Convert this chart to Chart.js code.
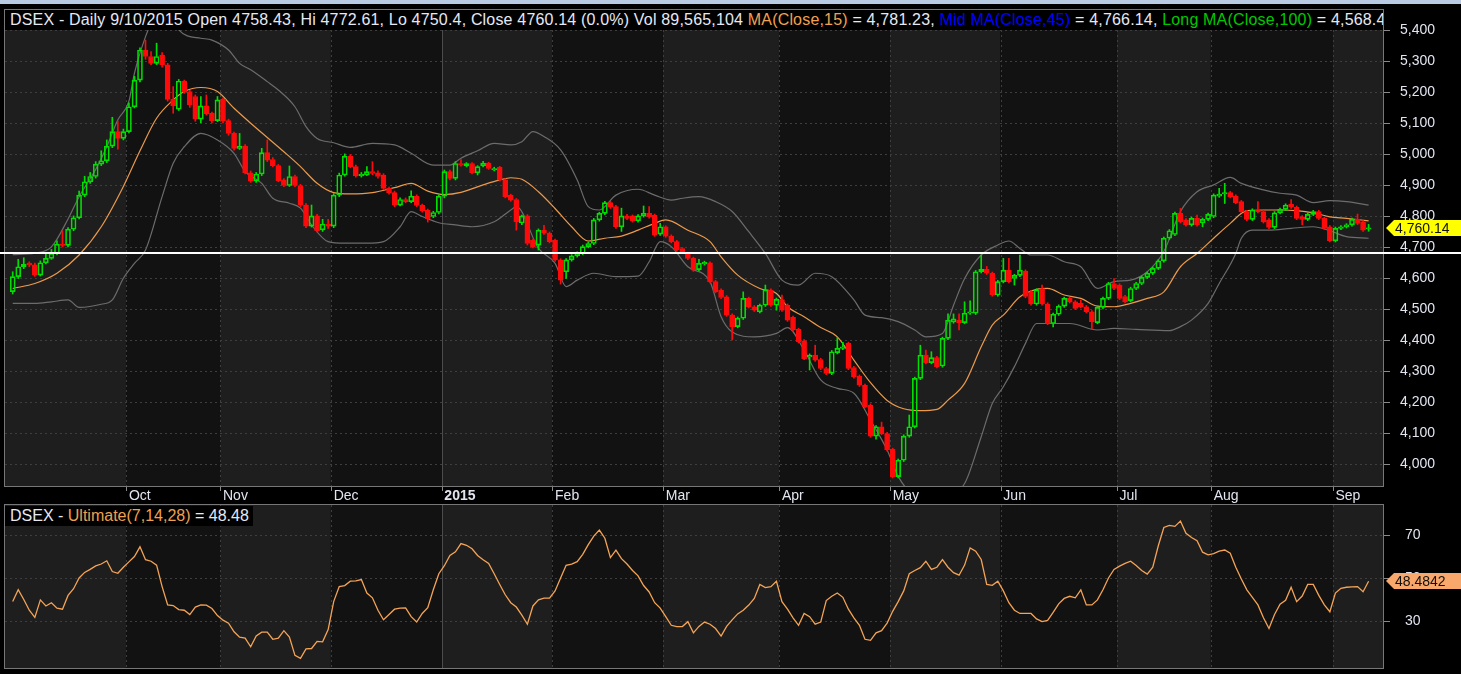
<!DOCTYPE html>
<html>
<head>
<meta charset="utf-8">
<script src="https://cdn.jsdelivr.net/npm/chart.js@4.4.0/dist/chart.umd.min.js"></script>
<style>
html, body { margin: 0; padding: 0; background: #000; width: 1461px; height: 674px; overflow: hidden; }
body { font-family: "Liberation Sans", Arial, sans-serif; position: relative; }
#topband { position: absolute; left: 0; top: 0; width: 1461px; height: 4px; background: #b8cbe3; }
canvas { position: absolute; left: 0; }
#priceCv { top: 0; }
#oscCv { top: 503px; }
.hdr { position: absolute; background: #000; color: #e6e8f4; font-size: 16px; line-height: 20px; white-space: nowrap; overflow: hidden; padding: 0 0 0 5px; }
#hdrMain { left: 5px; top: 10px; width: 1373px; letter-spacing: 0.18px; }
#hdrOsc { left: 5px; top: 506px; padding-right: 4px; }
.or { color: #f0a050; }
.bl { color: #0000ff; }
.gr { color: #00c800; }
</style>
</head>
<body>
<div id="topband"></div>
<canvas id="priceCv" width="1461" height="505"></canvas>
<canvas id="oscCv" width="1461" height="171"></canvas>
<div class="hdr" id="hdrMain">DSEX - Daily 9/10/2015 Open 4758.43, Hi 4772.61, Lo 4750.4, Close 4760.14 (0.0%) Vol 89,565,104 <span class="or">MA(Close,15)</span> = 4,781.23, <span class="bl">Mid MA(Close,45)</span> = 4,766.14, <span class="gr">Long MA(Close,100)</span> = 4,568.40</div>
<div class="hdr" id="hdrOsc">DSEX - <span class="or">Ultimate(7,14,28)</span> = 48.48</div>
<script>
// daily candles, Sep 2014 .. 10 Sep 2015 (one entry per trading day)
const openP = [
  4556,4604,4636,4648,4642,4609,4649,4663,4679,4709,
  4705,4757,4794,4867,4910,4927,4967,4978,5025,5072,
  5050,5072,5152,5238,5335,5314,5292,5319,5287,5176,
  5144,5235,5201,5185,5112,5155,5131,5107,5176,5107,
  5066,5018,5025,4939,4912,4935,5004,4982,4962,4916,
  4898,4927,4898,4835,4767,4800,4755,4774,4767,4867,
  4932,4993,4959,4929,4932,4943,4939,4932,4889,4875,
  4835,4853,4846,4864,4834,4819,4798,4811,4864,4943,
  4921,4969,4961,4969,4939,4961,4970,4948,4957,4916,
  4867,4853,4777,4800,4722,4706,4754,4744,4722,4658,
  4620,4658,4671,4679,4701,4711,4787,4808,4843,4830,
  4765,4800,4800,4784,4800,4808,4803,4741,4765,4735,
  4717,4695,4677,4663,4627,4645,4649,4588,4561,4539,
  4480,4443,4470,4534,4507,4491,4512,4561,4512,4530,
  4512,4473,4434,4397,4345,4351,4337,4308,4292,4359,
  4373,4389,4311,4283,4254,4190,4090,4120,4098,4047,
  3959,4012,4090,4120,4276,4351,4327,4343,4316,4405,
  4458,4464,4456,4486,4486,4620,4628,4615,4545,4588,
  4625,4598,4608,4622,4555,4516,4566,4516,4453,4483,
  4509,4534,4523,4518,4507,4491,4456,4505,4534,4582,
  4577,4540,4527,4566,4582,4602,4615,4631,4655,4728,
  4740,4808,4787,4771,4792,4777,4789,4798,4864,4871,
  4875,4864,4846,4814,4789,4819,4814,4787,4763,4810,
  4821,4838,4828,4797,4789,4805,4814,4792,4765,4720,
  4760,4765,4771,4789,4781,4758.43
];
const highP = [
  4620,4660,4665,4652,4648,4655,4680,4692,4720,4752,
  4762,4800,4880,4928,4940,4975,5010,5045,5118,5106,
  5080,5165,5250,5342,5367,5330,5357,5327,5292,5217,
  5240,5238,5205,5190,5185,5190,5135,5185,5180,5112,
  5070,5066,5030,4945,4940,5018,5045,4988,4966,4920,
  4961,4932,4902,4840,4835,4805,4789,4789,4872,4938,
  5000,4998,4964,4940,4959,4975,4945,4936,4893,4880,
  4858,4858,4881,4868,4838,4822,4815,4868,4948,4948,
  4975,4982,4972,4972,4962,4976,4973,4957,4960,4920,
  4870,4856,4803,4804,4725,4758,4770,4748,4725,4662,
  4662,4675,4684,4706,4716,4792,4812,4847,4847,4834,
  4825,4805,4803,4804,4832,4830,4806,4776,4768,4739,
  4721,4698,4681,4667,4660,4654,4652,4592,4565,4543,
  4484,4474,4555,4538,4511,4516,4577,4565,4535,4545,
  4516,4477,4438,4401,4355,4383,4341,4312,4366,4408,
  4392,4393,4315,4287,4258,4194,4124,4135,4102,4051,
  4016,4094,4158,4280,4383,4367,4362,4347,4409,4484,
  4484,4484,4523,4526,4624,4674,4637,4619,4592,4663,
  4663,4612,4674,4626,4559,4565,4577,4520,4487,4513,
  4538,4538,4527,4529,4511,4495,4509,4538,4586,4598,
  4581,4544,4570,4586,4606,4619,4635,4659,4732,4756,
  4812,4824,4791,4796,4803,4793,4809,4871,4889,4905,
  4879,4868,4850,4818,4823,4846,4818,4791,4814,4825,
  4839,4853,4832,4801,4809,4818,4818,4796,4769,4764,
  4769,4775,4793,4806,4785,4772.61
];
const lowP = [
  4548,4598,4630,4636,4605,4606,4645,4660,4675,4700,
  4700,4752,4790,4862,4905,4922,4962,4972,5020,5015,
  5045,5068,5148,5232,5305,5288,5288,5280,5170,5131,
  5140,5195,5150,5105,5101,5125,5100,5104,5100,5060,
  5012,5014,4935,4908,4908,4930,4975,4958,4910,4894,
  4895,4894,4830,4762,4764,4748,4750,4760,4762,4862,
  4928,4955,4925,4925,4930,4933,4922,4885,4870,4830,
  4832,4842,4843,4830,4812,4780,4794,4806,4858,4916,
  4916,4960,4958,4935,4932,4958,4950,4945,4912,4858,
  4847,4754,4772,4706,4697,4690,4740,4713,4653,4580,
  4598,4654,4667,4675,4697,4707,4783,4804,4824,4760,
  4750,4788,4780,4780,4796,4793,4734,4737,4731,4713,
  4686,4681,4659,4621,4623,4641,4584,4552,4533,4476,
  4400,4439,4466,4503,4492,4487,4508,4508,4496,4492,
  4460,4428,4390,4336,4303,4331,4304,4288,4288,4355,
  4369,4304,4277,4250,4181,4086,4080,4094,4041,3955,
  3955,4008,4086,4116,4272,4323,4323,4310,4312,4401,
  4454,4432,4452,4482,4482,4616,4611,4541,4541,4584,
  4584,4577,4604,4536,4512,4512,4512,4449,4442,4479,
  4505,4519,4498,4503,4487,4434,4452,4501,4530,4562,
  4530,4519,4523,4562,4578,4598,4611,4627,4651,4724,
  4736,4777,4767,4767,4767,4765,4785,4794,4860,4840,
  4858,4839,4810,4785,4785,4810,4777,4759,4759,4806,
  4817,4824,4788,4771,4785,4801,4788,4756,4716,4716,
  4756,4761,4767,4772,4750,4750.4
];
const closeP = [
  4604,4636,4644,4642,4609,4649,4663,4679,4709,4705,
  4757,4794,4867,4910,4927,4967,4978,5025,5072,5050,
  5072,5152,5238,5335,5314,5292,5314,5287,5176,5155,
  5235,5201,5158,5112,5155,5129,5107,5174,5107,5066,
  5018,5025,4939,4912,4935,5004,4980,4962,4914,4898,
  4927,4898,4835,4767,4800,4752,4774,4767,4867,4932,
  4993,4959,4929,4935,4943,4937,4927,4889,4875,4835,
  4853,4846,4864,4834,4816,4791,4811,4864,4943,4921,
  4969,4964,4969,4939,4959,4970,4953,4953,4916,4862,
  4851,4781,4800,4711,4701,4754,4744,4717,4658,4593,
  4658,4671,4679,4701,4711,4787,4808,4843,4828,4765,
  4800,4792,4784,4800,4808,4797,4738,4765,4735,4717,
  4690,4685,4663,4625,4647,4650,4588,4556,4537,4480,
  4443,4470,4534,4507,4496,4512,4561,4512,4531,4496,
  4464,4432,4394,4340,4350,4335,4308,4292,4362,4373,
  4378,4308,4281,4254,4185,4090,4120,4098,4045,3959,
  4012,4090,4120,4276,4351,4327,4343,4314,4405,4464,
  4468,4456,4486,4491,4620,4628,4615,4545,4588,4625,
  4588,4608,4625,4540,4516,4561,4516,4453,4483,4509,
  4534,4523,4502,4507,4491,4459,4505,4534,4582,4566,
  4534,4523,4566,4582,4602,4615,4631,4655,4728,4752,
  4808,4781,4771,4792,4771,4789,4805,4867,4870,4875,
  4862,4843,4814,4789,4819,4814,4781,4763,4810,4821,
  4835,4828,4792,4789,4805,4814,4792,4760,4720,4760,
  4765,4771,4789,4776,4754,4760.14
];

// MA(Close,15) and Bollinger bands as [bar, value]
const maPts = [[0,4566],[4,4582],[8,4615],[12,4674],[16,4765],[20,4895],[23,5010],[26,5115],[29,5174],[31,5201],
  [34,5214],[37,5201],[40,5147],[43,5099],[46,5053],[49,5007],[52,4959],[55,4905],[58,4875],[61,4871],
  [65,4875],[69,4891],[72,4905],[75,4880],[78,4869],[81,4876],[85,4900],[88,4916],[90,4923],[92,4918],
  [95,4878],[98,4824],[101,4765],[104,4719],[107,4728],[110,4735],[113,4754],[116,4776],[118,4787],[122,4754],
  [126,4717],[128,4668],[131,4609],[135,4566],[138,4550],[140,4507],[143,4475],[146,4440],[149,4410],[152,4335],
  [155,4262],[158,4205],[161,4178],[164,4172],[167,4176],[169,4206],[172,4260],[175,4378],[177,4448],[179,4480],
  [182,4539],[185,4563],[187,4566],[190,4545],[193,4534],[196,4509],[199,4507],[202,4518],[205,4534],[208,4555],
  [211,4636],[214,4679],[217,4728],[220,4776],[223,4817],[226,4819],[229,4819],[232,4817],[235,4810],[238,4797],
  [241,4792],[245,4784]];
const upperPts = [[0,4675],[4,4680],[7,4700],[10,4790],[12,4862],[15,4950],[17,5023],[19,5110],[21,5170],[22,5260],
  [24,5378],[25,5420],[27,5470],[29,5450],[30,5400],[34,5373],[36,5367],[39,5335],[41,5292],[43,5271],
  [46,5233],[48,5206],[51,5152],[53,5088],[55,5050],[58,5036],[61,5021],[65,5034],[69,5029],[72,5002],
  [76,4964],[79,4964],[81,4986],[84,5010],[87,5034],[90,5029],[92,5039],[94,5072],[96,5056],[99,5013],
  [102,4916],[104,4830],[106,4819],[109,4867],[113,4886],[116,4867],[119,4851],[121,4857],[124,4862],[127,4846],
  [130,4814],[133,4749],[136,4679],[139,4593],[142,4577],[145,4615],[148,4604],[152,4529],[154,4480],[157,4472],
  [160,4459],[163,4432],[165,4410],[168,4421],[170,4512],[172,4598],[175,4674],[178,4706],[180,4719],[182,4695],
  [184,4674],[187,4674],[190,4652],[193,4636],[196,4566],[199,4588],[202,4593],[205,4620],[208,4685],[211,4814],
  [214,4878],[217,4900],[220,4924],[222,4905],[226,4884],[229,4873],[232,4867],[235,4843],[238,4849],[241,4846],
  [245,4835]];
const lowerPts = [[0,4518],[4,4518],[7,4523],[10,4529],[12,4505],[16,4515],[18,4529],[20,4599],[22,4647],[24,4690],
  [27,4862],[29,4970],[31,5023],[34,5066],[37,5045],[40,5002],[42,4943],[45,4905],[47,4857],[50,4841],
  [52,4825],[54,4771],[57,4717],[60,4712],[64,4712],[67,4717],[70,4765],[72,4814],[74,4798],[77,4778],
  [80,4771],[83,4765],[87,4781],[90,4819],[91,4830],[95,4695],[98,4647],[100,4572],[102,4593],[105,4615],
  [109,4604],[113,4606],[115,4652],[117,4717],[119,4701],[122,4636],[126,4588],[128,4475],[130,4426],[134,4410],
  [138,4421],[140,4440],[143,4367],[146,4271],[149,4244],[152,4228],[155,4141],[158,4045],[160,3960],[162,3915],
  [165,3905],[169,3905],[172,3937],[175,4088],[177,4195],[179,4249],[181,4314],[183,4389],[185,4453],[188,4453],
  [191,4453],[196,4432],[199,4437],[203,4434],[209,4430],[211,4443],[213,4464],[216,4518],[218,4582],[221,4679],
  [222,4728],[224,4754],[227,4754],[231,4760],[235,4765],[238,4752],[241,4733],[245,4728]];

// Ultimate oscillator (7,14,28), one value per bar
const ultOsc = [
  39.1,44.6,40,35,31.7,39.8,37,38.5,36,35.5,
  41.9,45,50,52.6,54,55.6,56.5,58,53,52.2,
  55,57.5,60,64.5,58.5,57.8,56,46,37.5,37.2,
  35.3,35,33,36.5,37.5,37.4,35.8,32.5,30.4,29,
  25,22.5,22,18,23,24.8,24.8,21.5,22,25.5,
  22.5,14,12.6,17,17.2,20.5,20.3,26,39,46,
  46.5,48.5,48.7,49.3,43,40.8,35,30.6,33,35.5,
  36,36.1,32,29.5,33.5,36.2,44.5,52,55.7,60.5,
  62.2,66,65.2,63.6,60.5,58.5,56.8,52,47,42.2,
  38.5,36.5,32.7,28.5,37,39.8,40.6,40.6,44,50,
  55.9,56.5,57.6,61,65.5,69.5,72.3,68.5,59.5,63,
  59,56.5,53.5,51,46.5,43.5,38.5,36,32,28,
  27.4,27.4,29.7,24.5,27.5,29.5,28.5,26.5,23,27.5,
  30.5,33.3,35,37.4,40.5,47,45.5,46,48.5,39,
  35.5,31.5,28,33.5,32,28.5,29.5,39.5,41.5,43,
  41,35.5,31.5,28,21.5,21,24.5,25.5,29,34.5,
  39,44,52,53.5,54.8,57.8,54,55,58.5,55,
  52.5,51.3,56,64,62.5,58.6,47,46.6,48.5,44,
  38.5,35,33.5,33.5,33.5,31,29.7,30.3,34,38,
  40.5,41.5,40.8,44.5,37.5,37.5,39.8,44.5,50,54,
  55.5,56.8,57.8,55.8,53.5,51.8,55,65,73.5,74.5,
  74,76.5,70.8,68.8,67.3,62,60.8,61.3,62.5,63,
  61.5,55,49.5,44.5,41,37.5,31.5,26.5,33,37.8,
  39.6,45.7,39,41.6,47,47,41.9,37.5,34.3,43,
  45.2,45.7,45.9,46,43.6,48.4842
];

// axes
const monthStarts = [21, 38, 58, 78, 98, 118, 139, 159, 179, 200, 217, 239];
const monthLabels = ['Oct', 'Nov', 'Dec', '2015', 'Feb', 'Mar', 'Apr', 'May', 'Jun', 'Jul', 'Aug', 'Sep'];
const priceTicks = [4000, 4100, 4200, 4300, 4400, 4500, 4600, 4700, 4800, 4900, 5000, 5100, 5200, 5300, 5400];
const oscTicks = [30, 50, 70];
const stitchLevel = 4680;

const FONT = "'Liberation Sans', Arial, sans-serif";
const GREEN = '#00e000', RED = '#ff0a0a', LABEL = '#e2e4f0';
const X_MIN = -1.39, X_MAX = 247.6;
Chart.defaults.font.family = FONT;

const idx = closeP.map((_, i) => i);
const up = idx.map(i => closeP[i] >= openP[i]);
const last = closeP.length - 1;

// month shading, dotted grid, tick marks
const panelPlugin = {
  id: 'panel',
  beforeDraw(chart) {
    const { ctx, chartArea: a, scales: { x, y } } = chart;
    ctx.save();
    const edges = [X_MIN, ...monthStarts.map(m => m - 0.5), X_MAX];
    for (let k = 0; k < edges.length - 1; k++) {
      const x0 = x.getPixelForValue(edges[k]), x1 = x.getPixelForValue(edges[k + 1]);
      ctx.fillStyle = k % 2 === 0 ? '#1e1e1e' : '#121212';
      ctx.fillRect(x0, a.top, x1 - x0, a.bottom - a.top);
    }
    ctx.lineWidth = 1;
    ctx.strokeStyle = '#3e3e3e';
    ctx.setLineDash([2, 3]);
    y.ticks.forEach(t => {
      const py = Math.round(y.getPixelForValue(t.value)) + 0.5;
      ctx.beginPath(); ctx.moveTo(a.left, py); ctx.lineTo(a.right, py); ctx.stroke();
    });
    monthStarts.forEach((m, k) => {
      const px = Math.round(x.getPixelForValue(m - 0.5)) + 0.5;
      ctx.setLineDash(monthLabels[k] === '2015' ? [] : [2, 3]);
      ctx.strokeStyle = monthLabels[k] === '2015' ? '#4c4c4c' : '#3e3e3e';
      ctx.beginPath(); ctx.moveTo(px, a.top); ctx.lineTo(px, a.bottom); ctx.stroke();
    });
    ctx.setLineDash([]);
    ctx.strokeStyle = '#8a8a8a';
    y.ticks.forEach(t => {
      const py = Math.round(y.getPixelForValue(t.value)) + 0.5;
      ctx.beginPath(); ctx.moveTo(a.right, py); ctx.lineTo(a.right + 7, py); ctx.stroke();
    });
    if (chart.options.plugins.panel.xTicks) {
      monthStarts.forEach(m => {
        const px = Math.round(x.getPixelForValue(m - 0.5)) + 0.5;
        ctx.beginPath(); ctx.moveTo(px, a.bottom); ctx.lineTo(px, a.bottom + 5); ctx.stroke();
      });
    }
    ctx.restore();
  },
  afterDraw(chart) {
    const { ctx, chartArea: a, scales: { y } } = chart;
    const o = chart.options.plugins.panel;
    ctx.save();
    ctx.strokeStyle = '#777';
    ctx.lineWidth = 1;
    ctx.strokeRect(a.left - 0.5, a.top - 0.5, a.right - a.left + 1, a.bottom - a.top + 1);
    if (o.stitch !== undefined) {
      const py = Math.round(y.getPixelForValue(o.stitch));
      ctx.fillStyle = '#ffffff';
      ctx.fillRect(0, py - 1, chart.width, 2);
    }
    // last value flag
    const fy = Math.round(y.getPixelForValue(o.flagValue));
    const fx = a.right + 3;
    ctx.fillStyle = o.flagColor;
    ctx.beginPath();
    ctx.moveTo(fx, fy);
    ctx.lineTo(fx + 8, fy - 8);
    ctx.lineTo(chart.width, fy - 8);
    ctx.lineTo(chart.width, fy + 8);
    ctx.lineTo(fx + 8, fy + 8);
    ctx.closePath();
    ctx.fill();
    ctx.fillStyle = '#111';
    ctx.font = '14px ' + FONT;
    ctx.textBaseline = 'middle';
    ctx.fillText(o.flagText, fx + 9, fy + 1);
    ctx.restore();
  }
};

// drop the extra room Chart.js keeps for tick labels, so the plot fills its box
const noPad = s => { s.paddingTop = 0; s.paddingBottom = 0; s.paddingLeft = 0; s.paddingRight = 0; };

function xScale(show) {
  return {
    type: 'linear', min: X_MIN, max: X_MAX, offset: false, display: show,
    grid: { display: false, drawTicks: false }, border: { display: false },
    afterBuildTicks: s => { s.ticks = monthStarts.map(v => ({ value: v })); },
    afterFit: s => { s.height = show ? 19 : 0; noPad(s); },
    ticks: {
      autoSkip: false, maxRotation: 0, align: 'start', padding: 2, color: LABEL,
      font: c => ({ family: FONT, size: 14, weight: monthLabels[c.index] === '2015' ? 'bold' : 'normal' }),
      callback: (v, i) => monthLabels[i]
    }
  };
}

function yScale(min, max, ticks, pad, fmt) {
  return {
    type: 'linear', position: 'right', min, max,
    grid: { display: false, drawTicks: false }, border: { display: false },
    afterBuildTicks: s => { s.ticks = ticks.map(v => ({ value: v })); },
    afterFit: s => { s.width = 78; noPad(s); },
    ticks: { color: LABEL, font: { size: 14 }, crossAlign: 'near', padding: pad, callback: fmt }
  };
}

const lineDs = (pts, color, w, order) => ({
  type: 'line', data: pts.map(([x, y]) => ({ x, y })), borderColor: color, borderWidth: w,
  pointRadius: 0, cubicInterpolationMode: 'monotone', order
});

new Chart(document.getElementById('priceCv'), {
  type: 'bar',
  data: {
    datasets: [
      {
        label: 'body', data: idx.map(i => ({ x: i, y: [openP[i], closeP[i]] })),
        backgroundColor: idx.map(i => up[i] ? 'rgba(0,0,0,0)' : RED),
        borderColor: idx.map(i => up[i] ? GREEN : RED),
        borderWidth: 1, borderSkipped: false, barThickness: 5, minBarLength: 1, grouped: false, order: 0
      },
      {
        label: 'wickHi', data: idx.map(i => ({ x: i, y: [Math.max(openP[i], closeP[i]), highP[i]] })),
        backgroundColor: idx.map(i => up[i] ? GREEN : RED), barThickness: 1, grouped: false, order: 1
      },
      {
        label: 'wickLo', data: idx.map(i => ({ x: i, y: [lowP[i], Math.min(openP[i], closeP[i])] })),
        backgroundColor: idx.map(i => up[i] ? GREEN : RED), barThickness: 1, grouped: false, order: 1
      },
      lineDs(maPts, '#eb9a4c', 1.2, 3),
      lineDs(upperPts, '#6c6c6c', 1.2, 4),
      lineDs(lowerPts, '#6c6c6c', 1.2, 4)
    ]
  },
  options: {
    responsive: false, animation: false,
    layout: { padding: { left: 5, top: 10, right: 0, bottom: 0 } },
    plugins: {
      legend: { display: false }, tooltip: { enabled: false },
      panel: { xTicks: true, stitch: stitchLevel, flagValue: closeP[last], flagColor: '#ffff00',
        flagText: closeP[last].toLocaleString('en-US', { minimumFractionDigits: 2 }) }
    },
    scales: {
      x: xScale(true),
      y: yScale(3929, 5464, priceTicks, 17, v => v.toLocaleString('en-US'))
    }
  },
  plugins: [panelPlugin]
});

new Chart(document.getElementById('oscCv'), {
  type: 'line',
  data: {
    datasets: [{
      label: 'Ultimate', data: idx.map(i => ({ x: i, y: ultOsc[i] })),
      borderColor: '#f5a456', borderWidth: 1.3, pointRadius: 0, tension: 0
    }]
  },
  options: {
    responsive: false, animation: false,
    layout: { padding: { left: 5, top: 2, right: 0, bottom: 6 } },
    plugins: {
      legend: { display: false }, tooltip: { enabled: false },
      panel: { xTicks: false, flagValue: ultOsc[last], flagColor: '#f7a86a', flagText: String(ultOsc[last]) }
    },
    scales: {
      x: xScale(false),
      y: yScale(8.14, 83.95, oscTicks, 22, v => String(v))
    }
  },
  plugins: [panelPlugin]
});
</script>
</body>
</html>
